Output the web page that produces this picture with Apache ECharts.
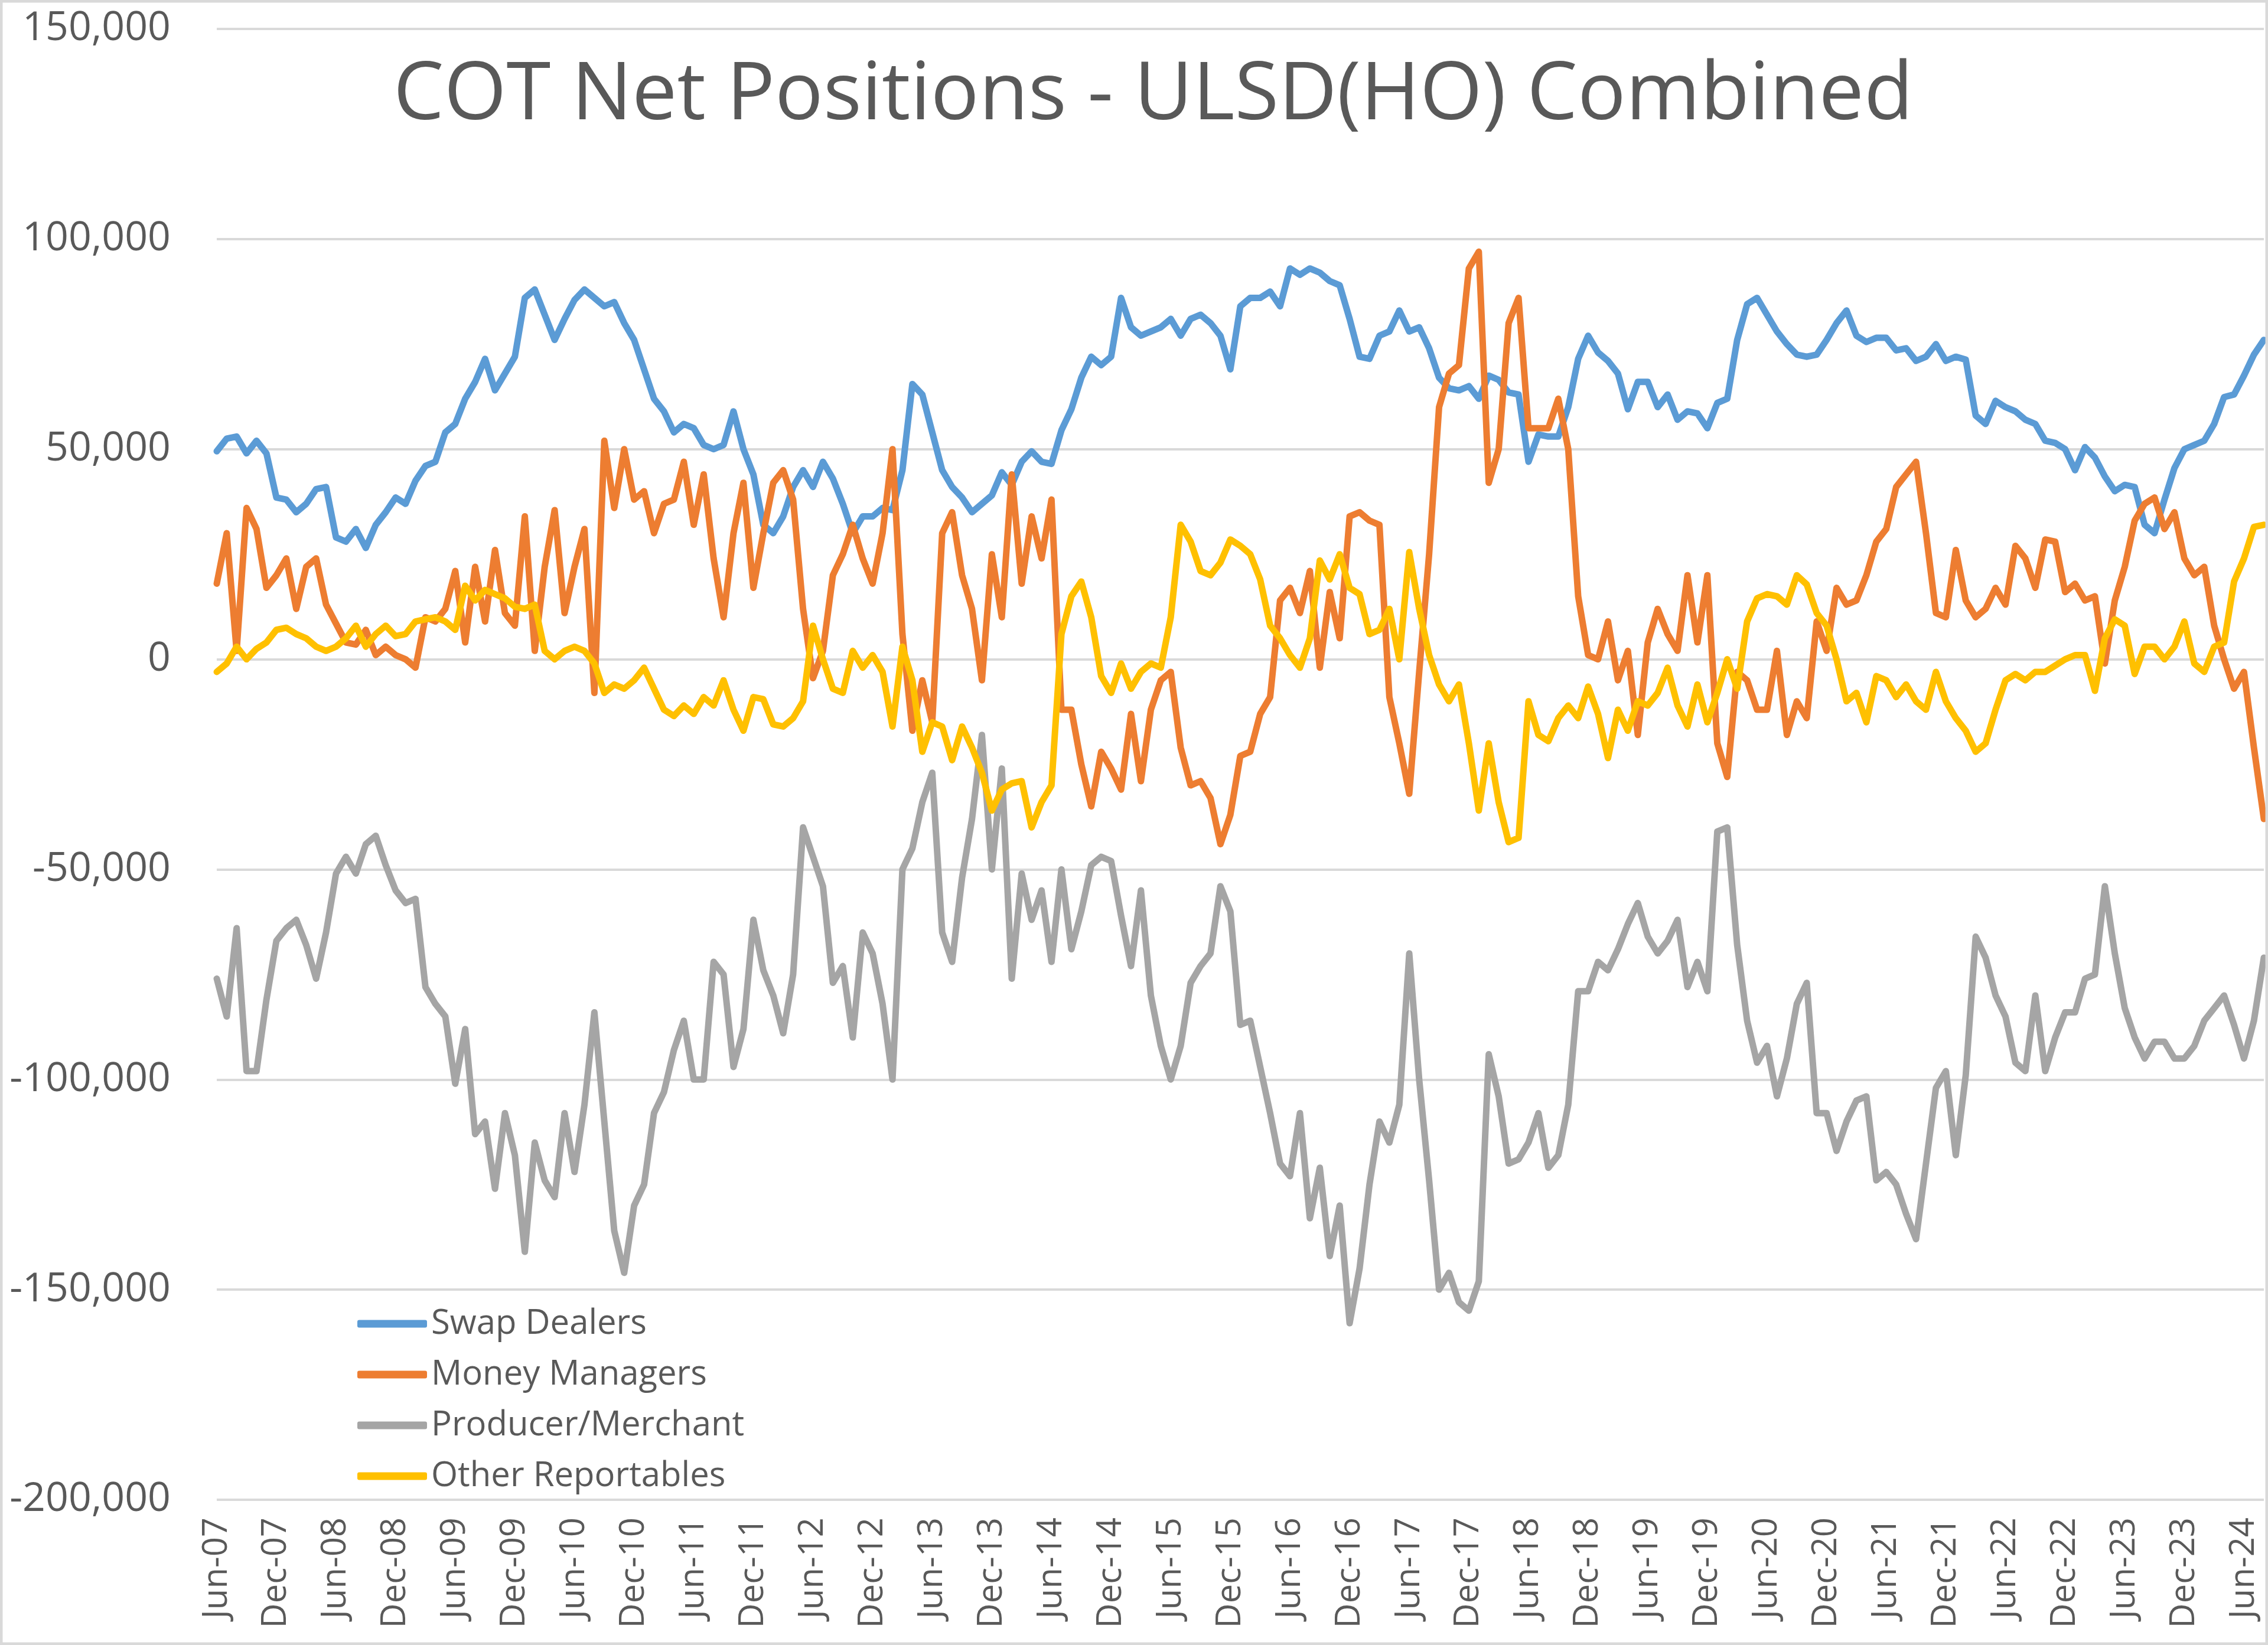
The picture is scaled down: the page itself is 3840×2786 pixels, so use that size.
<!DOCTYPE html>
<html><head><meta charset="utf-8">
<script src="https://cdn.jsdelivr.net/npm/echarts@6/dist/echarts.min.js"></script>
<style>html,body{margin:0;padding:0;background:#fff}#c{width:3840px;height:2786px}</style>
</head><body><div id="c"></div>
<script>
// Monthly samples, Jun-07 .. Aug-24 (values in thousands of contracts)
const monthNames = ['Jan','Feb','Mar','Apr','May','Jun','Jul','Aug','Sep','Oct','Nov','Dec'];
const categories = [];
for (let i = 0; i < 207; i++) {
  const m = (5 + i) % 12, y = 2007 + Math.floor((5 + i) / 12);
  categories.push(monthNames[m] + '-' + String(y % 100).padStart(2, '0'));
}
const seriesNames = ['Swap Dealers', 'Money Managers', 'Producer/Merchant', 'Other Reportables'];

const swapDealers = [49.5,52.5,53,49,52,49,38.5,38,35,37,40.5,41,29,28,31,26.5,32,35,38.5,37,42.5,46,47,54,56,62,66,71.5,64,68,
72,86,88,82,76,81,85.5,88,86,84,85,80,76,69,62,59,54,56,55,51,50,51,59,50,44,32,30,34,41,45,
41,47,43,37,30,34,34,36,35.5,45,65.5,63,54,45,41,38.5,35,37,39,44.5,41.5,47,49.5,47,46.5,54.5,59.5,67,72,
70,72,86,79,77,78,79,81,77,81,82,80,77,69,84,86,86,87.5,84,93,91.5,93,92,90,89,81,72,71.5,77,78,
83,78,79,74,67,64.5,64,65,62,67.5,66.5,63.5,63,47,53.5,53,53,60,71.5,77,73,71,68,59.5,66,66,60,63,57,59,
58.5,55,61,62,76,84.5,86,82,78,75,72.5,72,72.5,76,80,83,77,75.5,76.5,76.5,73.5,74,71,72,75,71,72,71.3,58,
56,61.5,60,59,57,56,52,51.5,50,45,50.5,48,43.5,40,41.5,41,32,30,38,45.5,50,51,52,56,62.4,63,67.5,72.5,76];

const moneyManagers = [18,30,2,36,31,17,20,24,12,22,24,13,8.5,4,3.5,7,1,3,1,0,-2,10,9,12,21,4,22,9,26,11,
8,34,2,22,35.5,11,22,31,-8,52,36,50,38,40,30,37,38,47,32,44,24,10,30,42,17,30,42,45,38,12,
-4.5,2,20,25,32,24,18,30,50,6,-17,-5,-15,30,35,20,12,-5,25,10,44,18,34,24,38,-12,-12,-25,-35,
-22,-26,-31,-13,-29,-12,-5,-3,-21,-30,-29,-33,-44,-37,-23,-22,-13,-9,14,17,11,21,-2,16,5,34,35,33,32,-9,
-20,-32,-3,25,60,68,70,93,97,42,50,80,86,55,55,55,62,50,15,1,0,9,-5,2,-18,4,12,6,2,20,
4,20,-20,-28,-3,-5,-12,-12,2,-18,-10,-14,9,2,17,13,14,20,28,31,41,44,47,30,11,10,26,14,10,
12,17,13,27,24,17,28.5,28,16,18,14,15,-1,14,22,33,37,38.5,31,35,24,20,22,8,0,-7,-3,-21,-38];

const producerMerchant = [-76,-85,-64,-98,-98,-81,-67,-64,-62,-68,-76,-65,-51,-47,-51,-44,-42,-49,-55,-58,-57,-78,-82,-85,-101,-88,-113,-110,-126,-108,
-118,-141,-115,-124,-128,-108,-122,-106,-84,-110,-136,-146,-130,-125,-108,-103,-93,-86,-100,-100,-72,
-75,-97,-88,-62,-74,-80,-89,-75,-40,-47,-54,-77,-73,-90,-65,-70,-82,-100,-50,-45,-34,-27,-65,-72,-52,-38,-18,-50,-26,-76,-51,-62,-55,-72,-50,-69,-60,-49,-47,-48,-61,-73,-55,-80,-92,-100,-92,-77,-73,-70,-54,
-60,-87,-86,-97,-108,-120,-123,-108,-133,-121,-142,-130,-158,-145,-125,-110,-115,-106,-70,-100,-124,-150,-146,-153,-155,-148,-94,-104,-120,-119,-115,-108,-121,-118,-106,-79,-79,-72,-74,-69,-63,-58,-66,-70,-67,-62,-78,-72,-79,-41,-40,
-68,-86,-96,-92,-104,-95,-82,-77,-108,-108,-117,-110,-105,-104,-124,-122,-125,-132,-138,-120,-102,-98,-118,-99,-66,-71,-80,-85,-96,-98,-80,-98,-90,-84,-84,-76,-75,-54,-70,-83,-90,-95,-91,-91,-95,-95,-92,-86,-83,-80,-87,-95,-86,-71];

const otherReportables = [-3,-1,3,0,2.5,4,7,7.5,6,5,3,2,3,5,8,3,6,8,5.5,6,9,9.5,10,9,7,17.5,14,16.5,15.5,14.5,
12.5,12,13,2,0,2,3,2,-1,-8,-6,-7,-5,-2,-7,-12,-13.5,-11,-13,-9,-11,-5,-12,-17,-9,-9.5,-15.5,-16,-14,-10,
8,0,-7,-8,2,-2,1,-3,-16,3,-5,-22,-15,-16,-24,-16,-21,-27,-36,-31,-29.5,-29,-40,-34,-30,6,15,18.5,10,
-4,-8,-1,-7,-3,-1,-2,10,32,28,21,20,23,28.5,27,25,19,8,5,1,-2,5,23.5,19,25,17,15.5,6,7,12,
0,25.5,12,1,-6,-10,-6,-20,-36,-20,-34,-43.5,-42.5,-10,-18,-19.5,-14,-11,-14,-6.5,-13,-23.5,-12,-17,-10,-11,-8,-2,-11,-16,
-6,-15,-8,0,-7,9,14.5,15.5,15,13,20,17.8,11,8,0,-10,-8,-15,-4,-5,-9,-6,-10,-12,-3,-10,-14,-17,-22,
-20,-12,-5,-3.5,-5,-3,-3,-1.5,0,1,1,-7.5,5,9.5,8,-3.5,3,3,0,3,9,-1,-3,3,4,18.5,24,31.5,32];

const yTicks = { min: -200000, max: 150000, interval: 50000 };
const colors = ['#5B9BD5', '#ED7D31', '#A5A5A5', '#FFC000'];
const seriesData = [swapDealers, moneyManagers, producerMerchant, otherReportables];

const chart = echarts.init(document.getElementById('c'), null, { renderer: 'canvas' });
const font = '"Open Sans", "Noto Sans", sans-serif';
chart.setOption({
  animation: false,
  backgroundColor: '#ffffff',
  title: {
    text: 'COT Net Positions - ULSD(HO) Combined',
    left: 661, top: 90,
    textStyle: { fontFamily: font, fontSize: 136, fontWeight: 'normal', color: '#595959' }
  },
  grid: { left: 367, right: 7, top: 49, bottom: 246, containLabel: false },
  legend: {
    orient: 'vertical', left: 600, top: 2208,
    itemWidth: 118, itemHeight: 13, itemGap: 28,
    icon: 'roundRect',
    textStyle: { fontFamily: font, fontSize: 58, color: '#595959', padding: [0, 0, 0, 2] },
    data: seriesNames
  },
  xAxis: {
    type: 'category', data: categories, boundaryGap: false,
    axisLine: { show: false }, axisTick: { show: false },
    axisLabel: {
      rotate: 90, margin: 30, fontFamily: font, fontSize: 58, color: '#595959',
      interval: function (idx) { return idx % 6 === 0; }
    },
    splitLine: { show: false }
  },
  yAxis: {
    type: 'value', min: yTicks.min, max: yTicks.max, interval: yTicks.interval,
    axisLine: { show: false }, axisTick: { show: false },
    axisLabel: { margin: 78, fontFamily: font, fontSize: 68, color: '#595959',
      formatter: function (v) { return v.toLocaleString('en-US'); } },
    splitLine: { lineStyle: { color: '#d9d9d9', width: 4 } }
  },
  graphic: [{ type: 'rect', shape: { x: 2, y: 2, width: 3836, height: 2782 },
    style: { fill: 'none', stroke: '#d9d9d9', lineWidth: 5 }, silent: true, z: 100 }],
  series: seriesNames.map(function (name, k) {
    return {
      name: name, type: 'line', symbol: 'none', smooth: false,
      data: seriesData[k].map(function (v) { return v * 1000; }),
      itemStyle: { color: colors[k] },
      lineStyle: { color: colors[k], width: 11, join: 'round', cap: 'round' }
    };
  })
});
</script></body></html>
